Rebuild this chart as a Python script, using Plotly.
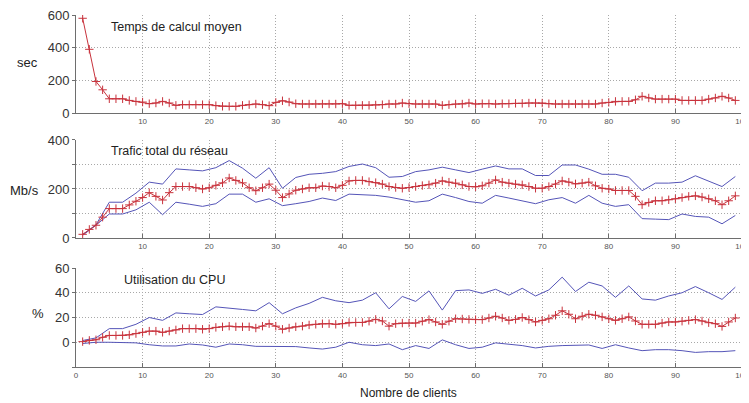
import plotly.graph_objects as go

x_all = list(range(1, 100))
x_odd = list(range(1, 100, 2))

temps = [580, 390, 193, 142, 87, 87, 87, 77, 71, 67,
         57, 61, 71, 61, 47, 51, 51, 51, 51, 51,
         45, 41, 41, 41, 47, 51, 55, 51, 45, 65,
         75, 67, 57, 55, 55, 55, 55, 55, 55, 57,
         47, 47, 47, 47, 49, 51, 55, 55, 61, 57,
         55, 55, 55, 55, 47, 51, 55, 55, 61, 55,
         57, 57, 55, 57, 57, 59, 59, 61, 61, 61,
         57, 55, 55, 55, 55, 55, 55, 55, 61, 65,
         71, 71, 71, 81, 102, 92, 85, 85, 85, 85,
         77, 77, 77, 77, 85, 92, 102, 92, 77]

trafic_moy = [15, 35, 52, 85, 120, 120, 120, 135, 150, 165,
              185, 170, 155, 185, 210, 210, 210, 205, 200, 205,
              215, 225, 245, 235, 225, 205, 193, 205, 220, 195,
              165, 180, 195, 200, 205, 205, 212, 210, 205, 215,
              233, 235, 235, 230, 226, 220, 210, 206, 203, 206,
              210, 214, 217, 224, 233, 228, 224, 217, 210, 209,
              213, 224, 237, 228, 224, 220, 217, 210, 203, 203,
              210, 220, 233, 228, 221, 224, 228, 213, 203, 200,
              194, 194, 194, 170, 136, 145, 152, 152, 156, 160,
              165, 170, 172, 167, 160, 152, 136, 152, 172]
trafic_max = [14, 54, 146, 146, 183, 228, 220, 282, 278, 274,
              287, 316, 285, 244, 287, 203, 247, 260, 264, 271,
              292, 302, 287, 248, 251, 271, 278, 289, 278, 267,
              281, 294, 282, 282, 255, 255, 298, 298, 281, 260,
              260, 248, 193, 224, 224, 228, 254, 233, 210, 251]
trafic_min = [11, 52, 98, 98, 115, 146, 95, 146, 138, 129,
              140, 179, 179, 146, 160, 132, 140, 149, 163, 153,
              179, 176, 174, 167, 156, 146, 152, 179, 165, 149,
              142, 174, 163, 152, 140, 156, 165, 142, 174, 142,
              129, 136, 79, 77, 75, 98, 88, 85, 58, 92]

cpu_moy = [0.5, 1.5, 2, 4, 5.5, 5.5, 5.5, 6, 7, 8,
           9, 9, 8, 9, 10, 11, 11, 11, 10.5, 11,
           12, 12.5, 13, 12.5, 12.5, 12.5, 11.5, 13, 15, 13,
           10.5, 11.5, 12.5, 13, 14, 14.5, 15, 15, 14.5, 15,
           16, 16, 16, 17, 18.5, 17.2, 13, 15, 15.5, 15.5,
           15.5, 17, 18.3, 16.4, 14.5, 17, 19, 18.8, 18.5, 18.3,
           18.3, 19.6, 21, 19.6, 17.7, 18.5, 20, 18.3, 16.4, 17.7,
           19, 21.8, 25.4, 22.6, 19, 21, 22.6, 21.8, 20.5, 19,
           17.7, 19, 20.5, 17.2, 14.5, 14.5, 14.5, 15.5, 16.4, 16.4,
           17, 17.7, 18.3, 17.2, 15.8, 15, 12.8, 16.4, 19.6]
cpu_max = [1.4, 3.5, 11, 11, 14.5, 20, 17.7, 23.7, 23, 22.4,
           28.6, 27.8, 26.5, 25.4, 32, 23, 27.8, 31.4, 36.3, 33.5,
           32, 34, 40, 27, 37, 33, 41.5, 26, 41.7, 42.3,
           39.5, 42.8, 38, 43.6, 37.4, 42.3, 52.6, 41, 48.5, 45.5,
           36.3, 45.5, 35, 34, 37.4, 40, 45, 40, 34.6, 44.5]
cpu_min = [-1, 0, 0, 0, -0.5, -2, -3, -3, -1.4, -2.2,
           -4, -1.4, -2, -3.3, -3.3, -3.3, -3.5, -4.6, -5.5, -4,
           0, -2, -2.7, -1.4, -6, -2.7, -5, 1.9, -2, -5,
           -4, -0.5, -1.4, -2.7, -4.6, -3.3, -2.7, -2.7, -2.2, -5,
           -2, -4.6, -6.8, -6, -6, -6.8, -8.2, -7.6, -7.6, -6.8]

RED = "#c8323c"
BLUE = "#5555b8"
GRID = "#a8a8a8"
AX = "#6e6e6e"

fig = go.Figure()

def red_trace(y, xa, ya):
    return go.Scatter(x=x_all, y=y, xaxis=xa, yaxis=ya, mode="lines+markers",
                      line=dict(color=RED, width=1),
                      marker=dict(symbol="cross-thin", size=6, line=dict(color=RED, width=1)),
                      showlegend=False, hoverinfo="skip")

def blue_trace(y, xa, ya):
    return go.Scatter(x=x_odd, y=y, xaxis=xa, yaxis=ya, mode="lines",
                      line=dict(color=BLUE, width=1), showlegend=False, hoverinfo="skip")

fig.add_trace(red_trace(temps, "x", "y"))
fig.add_trace(blue_trace(trafic_max, "x2", "y2"))
fig.add_trace(blue_trace(trafic_min, "x2", "y2"))
fig.add_trace(red_trace(trafic_moy, "x2", "y2"))
fig.add_trace(blue_trace(cpu_max, "x3", "y3"))
fig.add_trace(blue_trace(cpu_min, "x3", "y3"))
fig.add_trace(red_trace(cpu_moy, "x3", "y3"))

def xax(anchor, vals):
    return dict(anchor=anchor, domain=[0, 1], range=[0, 100], tickvals=vals,
                ticktext=[str(v) for v in vals],
                showgrid=True, gridcolor=GRID, griddash="1px,2px", gridwidth=1,
                showline=True, linecolor=AX, linewidth=1,
                ticks="inside", ticklen=4, tickcolor=AX,
                tickfont=dict(size=8, color="#555555", family="Liberation Sans"),
                ticklabeloverflow="allow",
                zeroline=False, fixedrange=True, automargin=False)

def yax(anchor, dom, rng, vals, text):
    return dict(anchor=anchor, domain=dom, range=rng, tickvals=vals, ticktext=text,
                showgrid=True, gridcolor=GRID, griddash="1px,2px", gridwidth=1,
                showline=True, linecolor=AX, linewidth=1,
                ticks="outside", ticklen=3, tickcolor=AX,
                tickfont=dict(size=13, color="#333333", family="Liberation Sans"),
                ticklabeloverflow="allow",
                zeroline=False, fixedrange=True, automargin=False)

# page is offset by the 8px body margin
OFF = 8
FW, FH = 741, 395
L = 76 - OFF
R = FW - (742 - OFF)
T = 15 - OFF
B = FH - (367 - OFF)

fig.update_layout(
    width=FW, height=FH,
    margin=dict(l=L, r=R, t=T, b=B, autoexpand=False),
    paper_bgcolor="white", plot_bgcolor="white",
    font=dict(family="Liberation Sans", color="#222222"),
    xaxis=xax("y", list(range(10, 101, 10))),
    xaxis2=xax("y2", list(range(10, 101, 10))),
    xaxis3=xax("y3", list(range(0, 101, 10))),
    yaxis=yax("x", [0.7216, 1.0], [0, 600], [0, 200, 400, 600], ["0", "200", "400", "600"]),
    yaxis2=yax("x2", [0.3665, 0.6449], [0, 400], [0, 100, 200, 300, 400], ["0", "", "200", "", "400"]),
    yaxis3=yax("x3", [0.0, 0.28125], [-20, 60], [-20, 0, 20, 40, 60], ["", "0", "20", "40", "60"]),
)

def ann(text, x, y, size=12, xanchor="left"):
    fig.add_annotation(text=text, x=x, y=y, xref="paper", yref="paper",
                       xanchor=xanchor, yanchor="middle", showarrow=False,
                       font=dict(size=size, color="#222222", family="Liberation Sans"))

W = 742 - 76
H = 367 - 15
def px(xp):
    return (xp - 76) / W
def py(yp):
    return (367 - yp) / H

ann("Temps de calcul moyen", px(109), py(27), size=12.5)
ann("Trafic total du réseau", px(109), py(151), size=12.5)
ann("Utilisation du CPU", px(122), py(280), size=12.5)
ann("sec", px(27), py(62), size=13, xanchor="center")
ann("Mb/s", px(24), py(190), size=13, xanchor="center")
ann("%", px(38), py(313), size=13, xanchor="center")
ann("Nombre de clients", px(408), py(393), size=12, xanchor="center")

fig.write_html("out.html")
